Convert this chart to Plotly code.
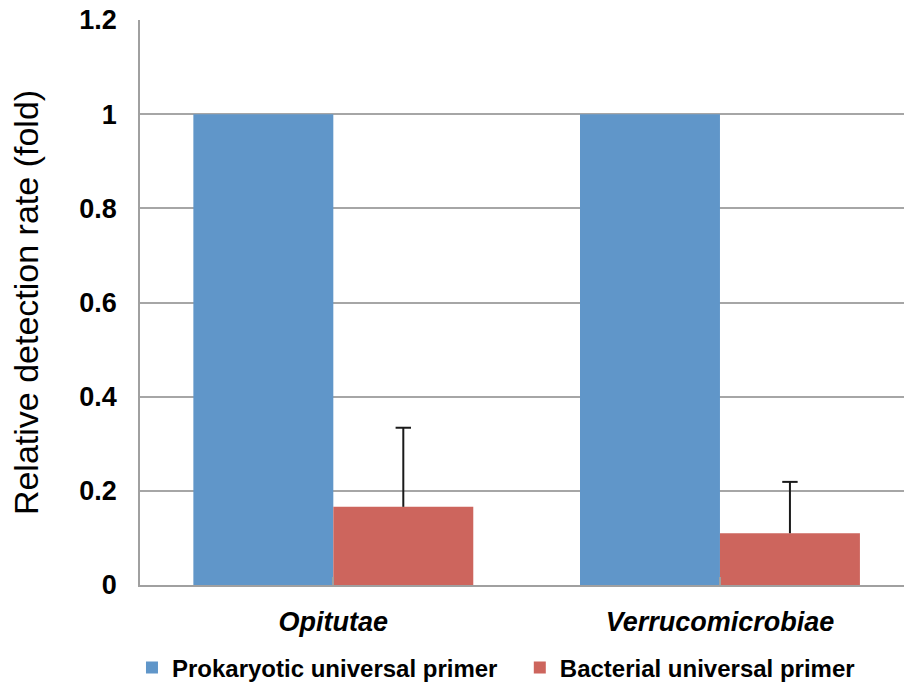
import plotly.graph_objects as go

categories = ["<i>Opitutae</i>", "<i>Verrucomicrobiae</i>"]
prokaryotic = [1.0, 1.0]
bacterial = [0.166, 0.110]
bacterial_err = [0.168, 0.109]
y_ticks = [0, 0.2, 0.4, 0.6, 0.8, 1.0, 1.2]
y_tick_text = ["0", "0.2", "0.4", "0.6", "0.8", "1", "1.2"]

FONT = "Liberation Sans, Arial, sans-serif"
BARGAP = 0.276
# centre of the second bar within each group (grouped bars, 2 per group)
red_offset = (1 - BARGAP) / 4
xpos = list(range(len(categories)))

fig = go.Figure()
fig.add_trace(go.Bar(
    x=xpos, y=prokaryotic, name="Prokaryotic universal primer",
    marker=dict(color="#6096C9", line=dict(width=0)), legend="legend",
))
fig.add_trace(go.Bar(
    x=xpos, y=bacterial, name="Bacterial universal primer",
    marker=dict(color="#CD655D", line=dict(width=0)), legend="legend2",
))
# upward-only error bars (no base cap)
err_top = [b + e for b, e in zip(bacterial, bacterial_err)]
fig.add_trace(go.Scatter(
    x=[x + red_offset for x in xpos], y=err_top, mode="markers",
    marker=dict(symbol="line-ew-open", size=11, color="#1a1a1a", line=dict(width=2, color="#1a1a1a")),
    error_y=dict(type="data", array=[0, 0], arrayminus=bacterial_err, symmetric=False,
                 color="#1a1a1a", thickness=2, width=0),
    showlegend=False, hoverinfo="skip",
))

legend_common = dict(orientation="h", xref="container", xanchor="left",
                     yref="container", y=0.0205, yanchor="middle",
                     font=dict(size=24, family=FONT, weight="bold"),
                     itemwidth=30, bgcolor="rgba(0,0,0,0)")

fig.update_layout(
    width=904, height=682,
    margin=dict(l=140, r=0, t=20, b=97),
    plot_bgcolor="white", paper_bgcolor="white",
    barmode="group", bargap=BARGAP, bargroupgap=0,
    font=dict(family=FONT, color="black"),
    showlegend=True,
    legend=dict(x=0.1460, **legend_common),
    legend2=dict(x=0.5750, **legend_common),
)
fig.update_xaxes(
    range=[-0.5, 1.476], automargin=False,
    tickmode="array", tickvals=xpos, ticktext=categories,
    tickson="boundaries", ticks="inside", ticklen=8, tickcolor="#a0a0a0", tickwidth=1.5,
    showline=True, linecolor="#a0a0a0", linewidth=1.5,
    showgrid=False, zeroline=False,
    tickfont=dict(size=27, family=FONT, weight="bold"),
    ticklabelstandoff=12,
)
fig.update_yaxes(
    range=[0, 1.2], automargin=False,
    tickmode="array", tickvals=y_ticks, ticktext=y_tick_text,
    showline=True, linecolor="#a0a0a0", linewidth=1.5,
    showgrid=True, gridcolor="#a6a6a6", gridwidth=1.5,
    zeroline=False, ticks="",
    tickfont=dict(size=27, family=FONT, weight="bold"),
    ticklabelstandoff=16,
    title=dict(text="Relative detection rate (fold)", font=dict(size=34, family=FONT), standoff=30),
)

fig.write_html("out.html", config={"displayModeBar": False},
               post_script="document.body.style.margin='0';")
